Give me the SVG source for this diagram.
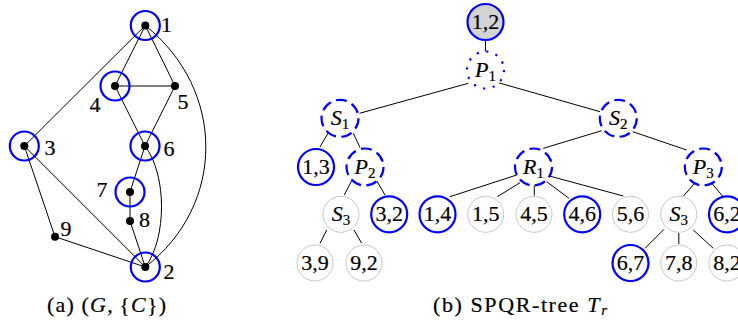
<svg xmlns="http://www.w3.org/2000/svg" width="738" height="323" viewBox="0 0 738 323">
  <style>
    text { font-family: "Liberation Serif", "Times New Roman", serif; font-size: 22px; fill: #000; stroke: #000; stroke-width: 0.2; }
    .lbl { text-anchor: middle; }
    .it { font-style: italic; }
    .sub { font-size: 15px; }
    .edge { stroke: #000; stroke-width: 1; fill: none; }
    .dot { fill: #000; }
    .mark { fill: none; stroke: #0000ff; stroke-width: 2.2; }
    .leaf { fill: #fff; stroke: #c8c8c8; stroke-width: 1; }
    .cut { fill: #fff; stroke: #0000ff; stroke-width: 2.2; }
    .root { fill: #d3d3d3; stroke: #0000ff; stroke-width: 2.2; }
    .dash { fill: #fff; stroke: #0000ff; stroke-width: 2.2; stroke-dasharray: 11 5.5; }
    .dots { fill: #fff; stroke: #0000ff; stroke-width: 2.2; stroke-dasharray: 2.2 7.5; }
    .cap { font-size: 22px; }
  </style>

  <!-- (a) graph G with marked vertices -->
  <g id="graph-edges">
    <line class="edge" x1="145.3" y1="25.5" x2="24.3" y2="146"/>
    <line class="edge" x1="145.3" y1="25.5" x2="115" y2="86"/>
    <line class="edge" x1="145.3" y1="25.5" x2="175" y2="86"/>
    <line class="edge" x1="115" y1="86" x2="175" y2="86"/>
    <line class="edge" x1="115" y1="86" x2="145" y2="146"/>
    <line class="edge" x1="175" y1="86" x2="145" y2="146"/>
    <path class="edge" d="M145.3,25.5 C226,90 226,205 145.3,267"/>
    <line class="edge" x1="145" y1="146" x2="130" y2="192"/>
    <line class="edge" x1="130" y1="192" x2="130" y2="221"/>
    <line class="edge" x1="130" y1="221" x2="145.3" y2="267"/>
    <path class="edge" d="M145,146 C167,175 167,238 145.3,267"/>
    <line class="edge" x1="24.3" y1="146" x2="145.3" y2="267"/>
    <line class="edge" x1="24.3" y1="146" x2="55" y2="236.7"/>
    <line class="edge" x1="55" y1="236.7" x2="145.3" y2="267"/>
  </g>
  <g id="v1"><circle class="dot" cx="145.3" cy="25.5" r="4"/><circle class="mark" cx="145.3" cy="25.5" r="14.5"/><text class="lbl" x="166.5" y="32">1</text></g>
  <g id="v4"><circle class="dot" cx="115" cy="86" r="4"/><circle class="mark" cx="115" cy="86" r="14.5"/><text class="lbl" x="95" y="112">4</text></g>
  <g id="v5"><circle class="dot" cx="175" cy="86" r="4"/><text class="lbl" x="183" y="108.5">5</text></g>
  <g id="v3"><circle class="dot" cx="24.3" cy="146" r="4"/><circle class="mark" cx="24.3" cy="146" r="14.5"/><text class="lbl" x="50" y="154.5">3</text></g>
  <g id="v6"><circle class="dot" cx="145" cy="146" r="4"/><circle class="mark" cx="145" cy="146" r="14.5"/><text class="lbl" x="169" y="155.5">6</text></g>
  <g id="v7"><circle class="dot" cx="130" cy="192" r="4"/><circle class="mark" cx="130" cy="192" r="14.5"/><text class="lbl" x="102" y="196.5">7</text></g>
  <g id="v8"><circle class="dot" cx="130" cy="221" r="4"/><text class="lbl" x="144.5" y="227">8</text></g>
  <g id="v9"><circle class="dot" cx="55" cy="236.7" r="4"/><text class="lbl" x="66" y="235.5">9</text></g>
  <g id="v2"><circle class="dot" cx="145.3" cy="267" r="4"/><circle class="mark" cx="145.3" cy="267" r="14.5"/><text class="lbl" x="169" y="279">2</text></g>
  <text id="caption-a" class="cap" x="47" y="312" textLength="119" lengthAdjust="spacing">(a) (<tspan class="it">G</tspan>,&#8201;{<tspan class="it">C</tspan>})</text>

  <!-- (b) SPQR-tree -->
  <g id="tree-edges">
    <line class="edge" x1="485.5" y1="40.7" x2="485.5" y2="51.7"/>
    <line class="edge" x1="468.3" y1="83.3" x2="359.5" y2="113.3"/>
    <line class="edge" x1="498.3" y1="82.7" x2="600" y2="111.7"/>
    <line class="edge" x1="328.3" y1="132.7" x2="320" y2="147"/>
    <line class="edge" x1="353.3" y1="133.3" x2="360" y2="147.5"/>
    <line class="edge" x1="351.7" y1="180.7" x2="344.3" y2="195"/>
    <line class="edge" x1="376.7" y1="180.7" x2="385" y2="195"/>
    <line class="edge" x1="326.7" y1="230" x2="320" y2="243.3"/>
    <line class="edge" x1="354" y1="230" x2="361.7" y2="243.3"/>
    <line class="edge" x1="601.7" y1="130.7" x2="543.3" y2="148.3"/>
    <line class="edge" x1="632.7" y1="131.7" x2="686.7" y2="150"/>
    <line class="edge" x1="516.7" y1="175" x2="450" y2="196.7"/>
    <line class="edge" x1="520" y1="182.7" x2="497.3" y2="196.7"/>
    <line class="edge" x1="534.3" y1="185" x2="534.3" y2="195.5"/>
    <line class="edge" x1="546.7" y1="181.7" x2="569" y2="198.3"/>
    <line class="edge" x1="549.5" y1="176" x2="623.3" y2="196"/>
    <line class="edge" x1="694.5" y1="183.5" x2="683.5" y2="196"/>
    <line class="edge" x1="712" y1="183.5" x2="722.5" y2="196"/>
    <line class="edge" x1="664" y1="229.3" x2="645" y2="248.3"/>
    <line class="edge" x1="678.8" y1="233" x2="678.8" y2="244"/>
    <line class="edge" x1="693.3" y1="230" x2="713.3" y2="248.3"/>
  </g>

  <g id="n12"><circle class="root" cx="485.5" cy="22" r="18"/><text class="lbl" x="485.5" y="29">1,2</text></g>
  <g id="nP1"><circle class="dots" cx="485.5" cy="70" r="18.5"/><text class="lbl" x="485.5" y="77"><tspan class="it">P</tspan><tspan class="sub" dy="4">1</tspan></text></g>
  <g id="nS1"><circle class="dash" cx="340" cy="118.3" r="18.5"/><text class="lbl" x="340" y="125.3"><tspan class="it">S</tspan><tspan class="sub" dy="4">1</tspan></text></g>
  <g id="nS2"><circle class="dash" cx="618.3" cy="118.3" r="18.5"/><text class="lbl" x="618.3" y="125.3"><tspan class="it">S</tspan><tspan class="sub" dy="4">2</tspan></text></g>
  <g id="n13"><circle class="cut" cx="316" cy="167" r="18"/><text class="lbl" x="316" y="174">1,3</text></g>
  <g id="nP2"><circle class="dash" cx="365" cy="167" r="18.5"/><text class="lbl" x="365" y="174"><tspan class="it">P</tspan><tspan class="sub" dy="4">2</tspan></text></g>
  <g id="nR1"><circle class="dash" cx="533.5" cy="167" r="18.5"/><text class="lbl" x="533.5" y="174"><tspan class="it">R</tspan><tspan class="sub" dy="4">1</tspan></text></g>
  <g id="nP3"><circle class="dash" cx="703.3" cy="167" r="18.5"/><text class="lbl" x="703.3" y="174"><tspan class="it">P</tspan><tspan class="sub" dy="4">3</tspan></text></g>
  <g id="nS3a"><circle class="leaf" cx="341" cy="214.3" r="18"/><text class="lbl" x="341" y="221.3"><tspan class="it">S</tspan><tspan class="sub" dy="4">3</tspan></text></g>
  <g id="n32"><circle class="cut" cx="389.2" cy="214.3" r="18"/><text class="lbl" x="389.2" y="221.3">3,2</text></g>
  <g id="n14"><circle class="cut" cx="437.5" cy="214.3" r="18"/><text class="lbl" x="437.5" y="221.3">1,4</text></g>
  <g id="n15"><circle class="leaf" cx="485.7" cy="214.3" r="18"/><text class="lbl" x="485.7" y="221.3">1,5</text></g>
  <g id="n45"><circle class="leaf" cx="534" cy="214.3" r="18"/><text class="lbl" x="534" y="221.3">4,5</text></g>
  <g id="n46"><circle class="cut" cx="582.2" cy="214.3" r="18"/><text class="lbl" x="582.2" y="221.3">4,6</text></g>
  <g id="n56"><circle class="leaf" cx="630.5" cy="214.3" r="18"/><text class="lbl" x="630.5" y="221.3">5,6</text></g>
  <g id="nS3b"><circle class="leaf" cx="678.8" cy="214.3" r="18"/><text class="lbl" x="678.8" y="221.3"><tspan class="it">S</tspan><tspan class="sub" dy="4">3</tspan></text></g>
  <g id="n62"><circle class="cut" cx="727" cy="214.3" r="18"/><text class="lbl" x="727" y="221.3">6,2</text></g>
  <g id="n39"><circle class="leaf" cx="315" cy="263" r="18"/><text class="lbl" x="315" y="270">3,9</text></g>
  <g id="n92"><circle class="leaf" cx="364" cy="263" r="18"/><text class="lbl" x="364" y="270">9,2</text></g>
  <g id="n67"><circle class="cut" cx="630.5" cy="263" r="18"/><text class="lbl" x="630.5" y="270">6,7</text></g>
  <g id="n78"><circle class="leaf" cx="678.8" cy="263" r="18"/><text class="lbl" x="678.8" y="270">7,8</text></g>
  <g id="n82"><circle class="leaf" cx="727" cy="263" r="18"/><text class="lbl" x="727" y="270">8,2</text></g>
  <text id="caption-b" class="cap" x="433" y="312" textLength="174" lengthAdjust="spacing">(b) SPQR-tree <tspan class="it">T</tspan><tspan class="it sub" dy="3">r</tspan></text>
</svg>
